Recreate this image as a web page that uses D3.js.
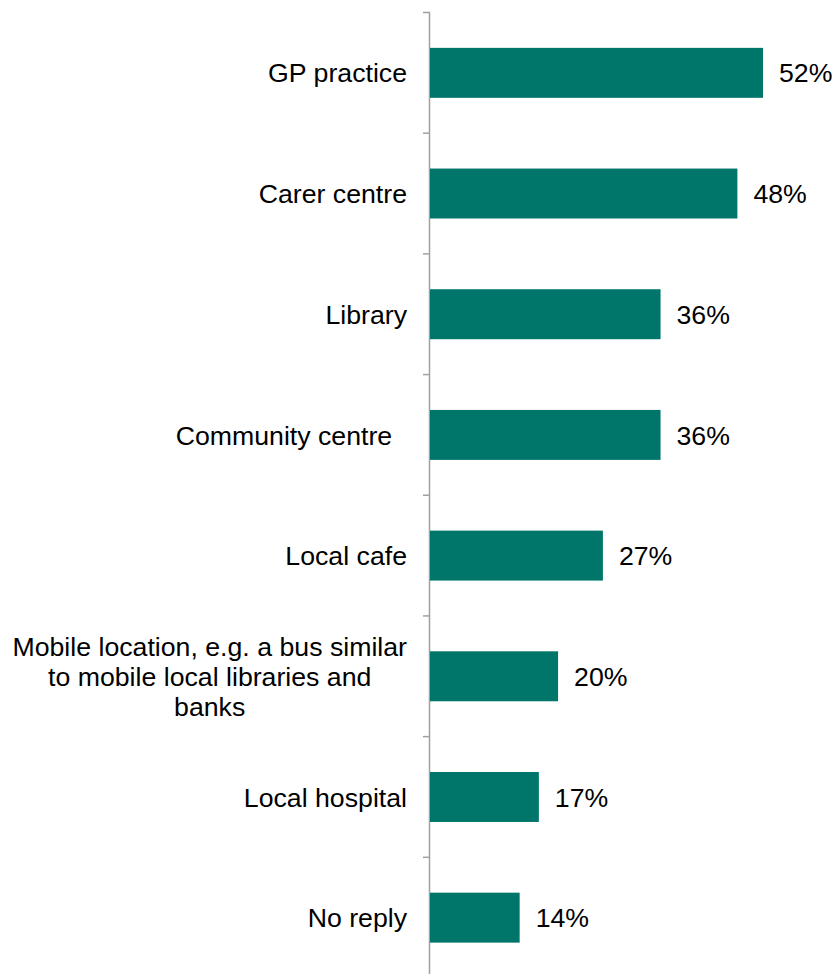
<!DOCTYPE html>
<html><head><meta charset="utf-8">
<script src="https://cdn.jsdelivr.net/npm/d3@7"></script>
<style>body{margin:0;background:#fff;} text{font-family:"Liberation Sans",Arial,sans-serif;}</style>
</head><body>
<svg id="c" width="834" height="974"></svg>
<script>
const categories = [
  ["GP practice"],
  ["Carer centre"],
  ["Library"],
  ["Community centre  "],
  ["Local cafe"],
  ["Mobile location, e.g. a bus similar", "to mobile local libraries and", "banks"],
  ["Local hospital"],
  ["No reply"]
];
const values = [52, 48, 36, 36, 27, 20, 17, 14];
const valueLabels = ["52%", "48%", "36%", "36%", "27%", "20%", "17%", "14%"];

const svg = d3.select("#c");
const fs = 26.7;
const x0 = 430;
const x = d3.scaleLinear().domain([0, 52]).range([x0, 763]);
const y = d3.scaleBand().domain(d3.range(categories.length)).range([12.5, 978]).paddingInner(0.586).paddingOuter(0.293);
const step = y.step();

// axis line and ticks
svg.append("line").attr("x1", x0 - 0.5).attr("x2", x0 - 0.5).attr("y1", 12.5).attr("y2", 978)
  .attr("stroke", "#a0a0a0").attr("stroke-width", 1.5);
const tickYs = d3.range(categories.length + 1).map(i => 12.5 + i * step);
svg.selectAll(".tick").data(tickYs).join("line")
  .attr("x1", x0 - 7).attr("x2", x0).attr("y1", d => d).attr("y2", d => d)
  .attr("stroke", "#a0a0a0").attr("stroke-width", 1.5);

// bars
svg.selectAll(".bar").data(values).join("rect")
  .attr("x", x0).attr("y", (d, i) => y(i)).attr("width", d => x(d) - x0).attr("height", y.bandwidth())
  .attr("fill", "#00766a");

// value labels
svg.selectAll(".val").data(values).join("text")
  .attr("x", d => x(d) + 16).attr("y", (d, i) => y(i) + y.bandwidth() / 2).attr("dy", "0.36em")
  .attr("font-size", fs).attr("fill", "#000").text((d, i) => valueLabels[i]);

// category labels
categories.forEach((lines, i) => {
  const cy = y(i) + y.bandwidth() / 2;
  const g = svg.append("g");
  const lh = 30.3;
  const ts = lines.map((l, j) => g.append("text")
    .attr("y", cy + (j - (lines.length - 1) / 2) * lh).attr("dy", "0.36em")
    .attr("font-size", fs).attr("fill", "#000").style("white-space", "pre").text(l));
  const widths = ts.map(t => t.node().getComputedTextLength());
  const maxW = d3.max(widths);
  const right = 407;
  if (lines.length === 1) {
    ts[0].attr("x", right).attr("text-anchor", "end");
  } else {
    ts.forEach(t => t.attr("x", right - maxW / 2).attr("text-anchor", "middle"));
  }
});
</script>
</body></html>
